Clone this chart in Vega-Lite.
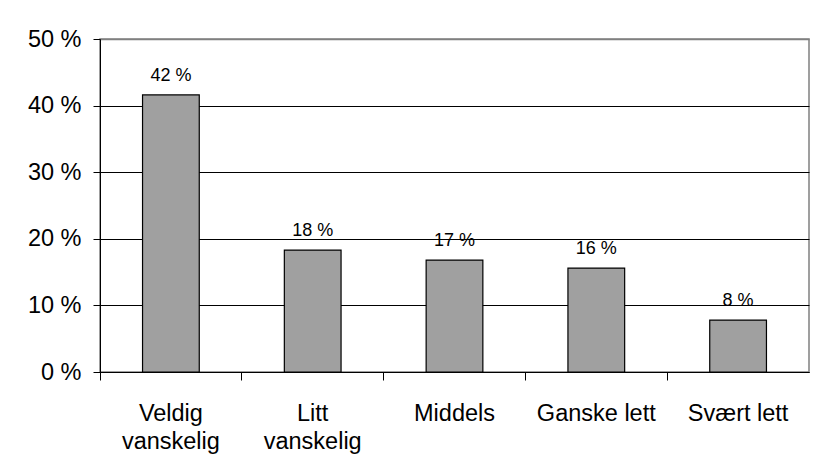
{
  "$schema": "https://vega.github.io/schema/vega-lite/v6.json",
  "autosize": "none",
  "width": 709,
  "height": 333,
  "padding": {"left": 100, "top": 39, "right": 26, "bottom": 102},
  "background": "white",
  "config": {
    "font": "Liberation Sans",
    "view": {"stroke": "#808080", "strokeWidth": 1.5}
  },
  "data": {
    "values": [
      {"kategori": "Veldig\nvanskelig", "andel": 41.6, "etikett": "42 %"},
      {"kategori": "Litt\nvanskelig", "andel": 18.3, "etikett": "18 %"},
      {"kategori": "Middels", "andel": 16.8, "etikett": "17 %"},
      {"kategori": "Ganske lett", "andel": 15.6, "etikett": "16 %"},
      {"kategori": "Svært lett", "andel": 7.8, "etikett": "8 %"}
    ]
  },
  "encoding": {
    "x": {
      "field": "kategori",
      "type": "nominal",
      "sort": null,
      "scale": {"paddingInner": 0, "paddingOuter": 0},
      "axis": {
        "title": null,
        "labelAngle": 0,
        "labelExpr": "split(datum.label, '\\n')",
        "labelFontSize": 23.5,
        "labelColor": "black",
        "labelLineHeight": 28,
        "labelPadding": 21,
        "labelBaseline": "top",
        "domainColor": "black",
        "tickColor": "black",
        "tickSize": 8,
        "bandPosition": 0,
        "grid": false
      }
    },
    "y": {
      "field": "andel",
      "type": "quantitative",
      "scale": {"domain": [0, 50], "nice": false},
      "axis": {
        "title": null,
        "values": [0, 10, 20, 30, 40, 50],
        "labelExpr": "datum.value + ' %'",
        "labelFontSize": 23.5,
        "labelColor": "black",
        "labelPadding": 12,
        "domainColor": "black",
        "tickColor": "black",
        "tickSize": 7,
        "grid": true,
        "gridColor": {"condition": {"test": "datum.value == 50", "value": "#808080"}, "value": "black"},
        "gridWidth": {"condition": {"test": "datum.value == 50", "value": 1.5}, "value": 1},
        "gridOpacity": 1
      }
    }
  },
  "layer": [
    {
      "mark": {"type": "bar", "width": {"band": 0.4}, "fill": "#a0a0a0", "stroke": "black", "strokeWidth": 1.2}
    },
    {
      "mark": {"type": "text", "baseline": "bottom", "dy": -10, "fontSize": 18, "color": "black"},
      "encoding": {
        "text": {"field": "etikett", "type": "nominal"}
      }
    }
  ]
}
